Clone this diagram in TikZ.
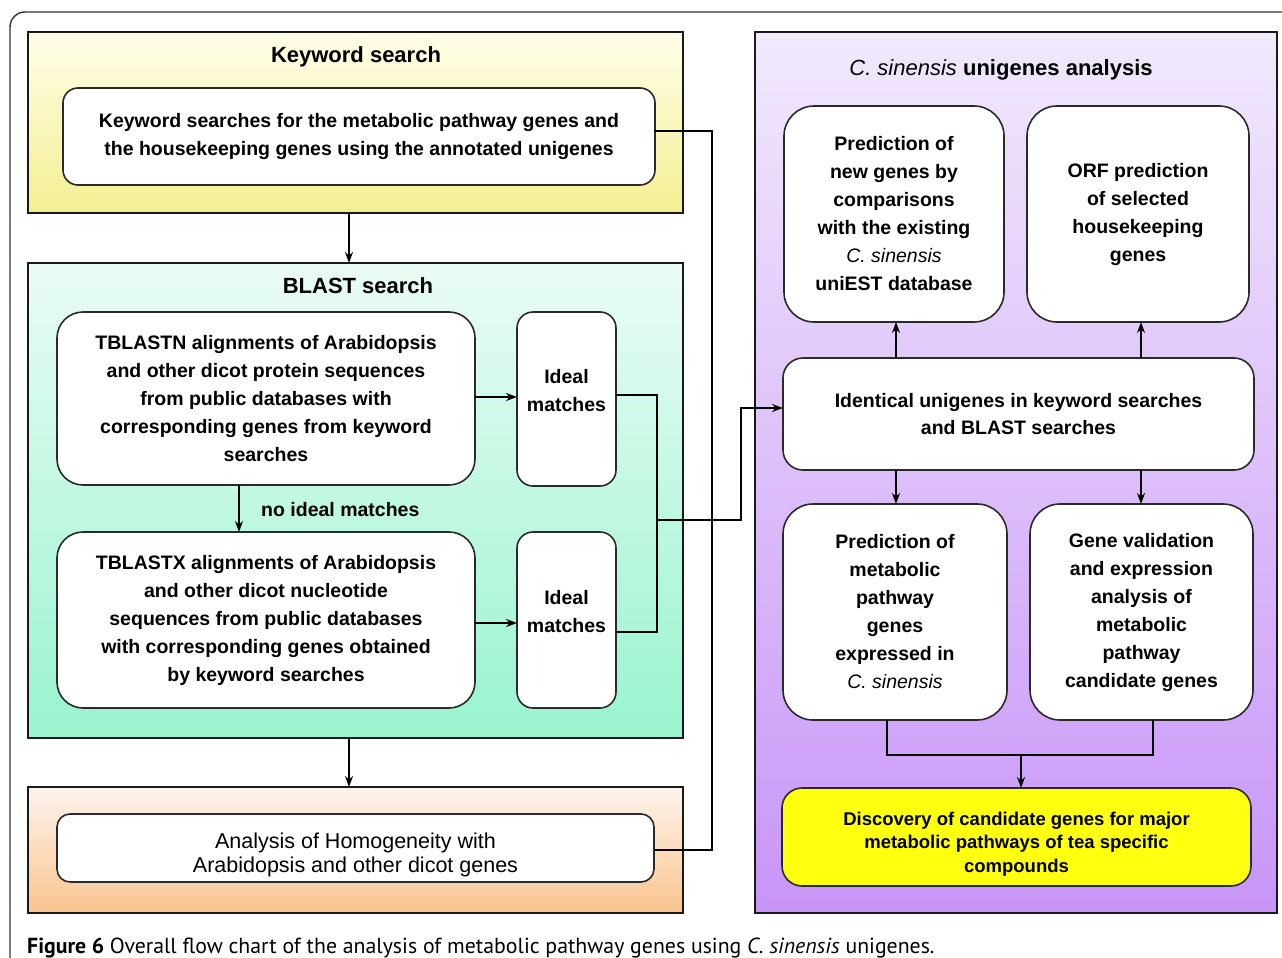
\documentclass[tikz,border=0pt]{standalone}
\usepackage{fontspec}
\setmainfont{Liberation Sans}
\newfontfamily\capfont{PT Sans}
\usetikzlibrary{arrows.meta,calc}
\definecolor{kwtop}{HTML}{FFFEE8}
\definecolor{kwbot}{HTML}{F4EF92}
\definecolor{bltop}{HTML}{EAFCF5}
\definecolor{blbot}{HTML}{98F4CE}
\definecolor{ortop}{HTML}{FEF4EC}
\definecolor{orbot}{HTML}{FAC48F}
\definecolor{putop}{HTML}{F1E9FC}
\definecolor{pubot}{HTML}{C895F8}
\definecolor{yelbox}{HTML}{FFFF10}
\definecolor{edge}{HTML}{2A2A2A}
\begin{document}
\begin{tikzpicture}[x=1pt,y=-1pt,
  panel/.style={draw=black!90, line width=1.8pt, inner sep=0pt, outer sep=0pt},
  box/.style={draw=edge, line width=1.6pt, fill=white, align=center, inner sep=0pt, outer sep=0pt,
    font=\bfseries\fontsize{19.5}{28}\selectfont},
  ttl/.style={font=\bfseries\fontsize{22}{26}\selectfont, inner sep=0pt},
  lbl/.style={font=\bfseries\fontsize{19.5}{24}\selectfont, inner sep=0pt},
  conn/.style={line width=1.6pt, draw=black},
  arr/.style={conn, -{Stealth[length=11pt,width=8pt]}}
]
\useasboundingbox (0,0) rectangle (1282,958);
\fill[white] (0,0) rectangle (1282,958);
% outer frame
\draw[line width=1.4pt, draw=black!80, rounded corners=15pt] (10,990) -- (10,12) -- (1320,12);

% panels
\node[panel, top color=kwtop, bottom color=kwbot, minimum width=655, minimum height=181] (kwp) at (355.5,122.5) {};
\node[panel, top color=bltop, bottom color=blbot, minimum width=655, minimum height=475] (blp) at (355.5,500.5) {};
\node[panel, top color=ortop, bottom color=orbot, minimum width=655, minimum height=126] (orp) at (355.5,850) {};
\node[panel, top color=putop, bottom color=pubot, minimum width=522, minimum height=881] (pup) at (1016,472.5) {};

% titles
\node[ttl] (kwt) at (356,57) {Keyword search};
\node[ttl] (blt) at (358,286) {BLAST search};
\node[ttl] (put) at (1001,70) {{\mdseries\itshape C. sinensis} unigenes analysis};

% boxes left
\node[box, rounded corners=15pt, minimum width=592, minimum height=97] (kwb) at (359,136.5)
  {Keyword searches for the metabolic pathway genes and\\the housekeeping genes using the annotated unigenes};
\node[box, rounded corners=26pt, minimum width=418, minimum height=173] (tbn) at (266,398.5)
  {TBLASTN alignments of Arabidopsis\\and other dicot protein sequences\\from public databases with\\corresponding genes from keyword\\searches};
\node[box, rounded corners=26pt, minimum width=418, minimum height=176] (tbx) at (266,620)
  {TBLASTX alignments of Arabidopsis\\and other dicot nucleotide\\sequences from public databases\\with corresponding genes obtained\\by keyword searches};
\node[box, rounded corners=16pt, minimum width=99, minimum height=174] (id1) at (566.5,399)
  {Ideal\\matches\\[-10pt]};
\node[box, rounded corners=16pt, minimum width=99, minimum height=176] (id2) at (566.5,620)
  {Ideal\\matches\\[-10pt]};
\node[box, rounded corners=13pt, minimum width=597, minimum height=68,
  font=\fontsize{21.5}{24}\selectfont] (hom) at (355.5,848)
  {\rule{0pt}{29pt}Analysis of Homogeneity with\\Arabidopsis and other dicot genes};
\node[lbl, anchor=west] (nim) at (261,510) {no ideal matches};

% boxes right
\node[box, rounded corners=30pt, minimum width=220, minimum height=216] (pn) at (894,214)
  {Prediction of\\new genes by\\comparisons\\with the existing\\{\mdseries\itshape C. sinensis}\\uniEST database};
\node[box, rounded corners=30pt, minimum width=222, minimum height=216] (orf) at (1138,214)
  {ORF prediction\\of selected\\housekeeping\\genes};
\node[box, rounded corners=20pt, minimum width=471, minimum height=112,
  font=\bfseries\fontsize{19.5}{27}\selectfont] (ident) at (1018.5,414)
  {Identical unigenes in keyword searches\\and BLAST searches};
\node[box, rounded corners=30pt, minimum width=224, minimum height=216] (pm) at (895,612)
  {Prediction of\\metabolic\\pathway\\genes\\expressed in\\{\mdseries\itshape C. sinensis}};
\node[box, rounded corners=30pt, minimum width=223, minimum height=216] (gv) at (1141.5,612)
  {Gene validation\\and expression\\analysis of\\metabolic\\pathway\\candidate genes};
\node[box, fill=yelbox, rounded corners=20pt, minimum width=469, minimum height=98,
  font=\bfseries\fontsize{18.5}{23.5}\selectfont] (yel) at (1016.5,837)
  {\rule{0pt}{27pt}Discovery of candidate genes for major\\metabolic pathways of tea specific\\compounds};

% connectors left
\draw[arr] (kwp.south -| 349,0) -- (blp.north -| 349,0);
\draw[arr] (blp.south -| 349,0) -- (orp.north -| 349,0);
\draw[arr] (tbn.south -| 239,0) -- (tbx.north -| 239,0);
\draw[arr] (tbn.east |- 0,397) -- (id1.west |- 0,397);
\draw[arr] (tbx.east |- 0,623) -- (id2.west |- 0,623);
\coordinate (mj) at (657,520);
\draw[conn] (id1.east |- 0,395) -| (mj) |- (id2.east |- 0,632);
\draw[arr] (mj) -- (741,520) |- (ident.west |- 0,408);
\draw[conn] (kwb.east |- 0,131) -| (712,850) -- (hom.east |- 0,850);

% connectors right
\draw[arr] (ident.north -| 896,0) -- (pn.south -| 896,0);
\draw[arr] (ident.north -| 1141,0) -- (orf.south -| 1141,0);
\draw[arr] (ident.south -| 896,0) -- (pm.north -| 896,0);
\draw[arr] (ident.south -| 1141,0) -- (gv.north -| 1141,0);
\coordinate (mj2) at (1021,755);
\draw[conn] (pm.south -| 887,0) |- (mj2) -| (gv.south -| 1153,0);
\draw[arr] (mj2) -- (yel.north -| mj2);

% caption
\node[anchor=base west, inner sep=0pt, font=\capfont\fontsize{21.8}{24}\selectfont] (cap) at (27,953)
  {\textbf{Figure 6} Overall flow chart of the analysis of metabolic pathway genes using \textit{C. sinensis} unigenes.};
\end{tikzpicture}
\end{document}
